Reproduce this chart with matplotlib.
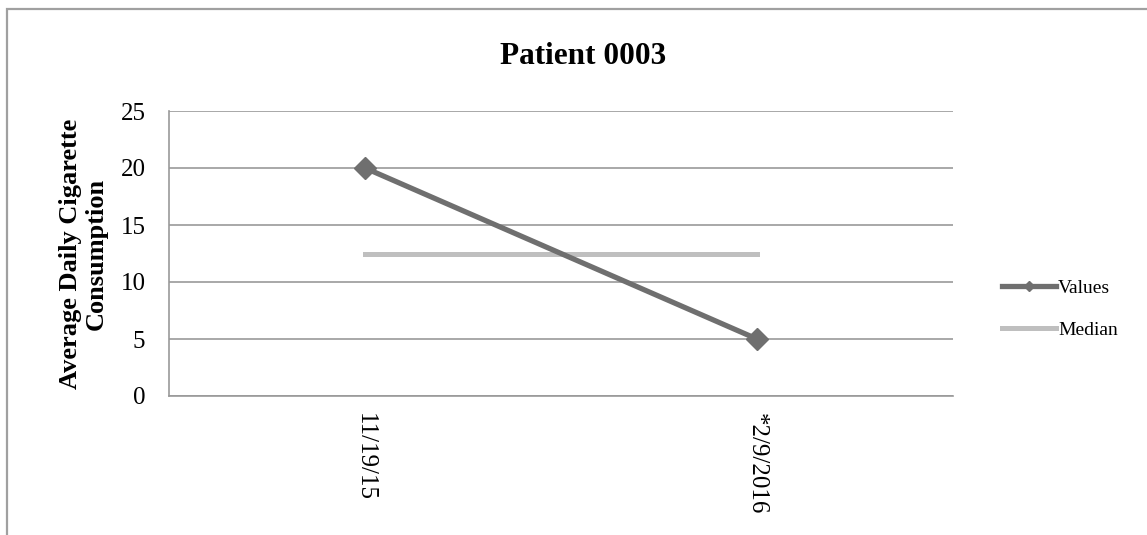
import matplotlib
matplotlib.use("Agg")
import matplotlib.pyplot as plt
from matplotlib.patches import Rectangle

# chart data
dates = ["11/19/15", "*2/9/2016"]
values = [20, 5]
median = [12.5, 12.5]
y_ticks = [0, 5, 10, 15, 20, 25]

plt.rcParams["font.family"] = ["Liberation Serif", "DejaVu Serif"]

W, H = 1147, 535
fig = plt.figure(figsize=(W / 100, H / 100), dpi=100)

# outer chart border (only left and top visible in the crop)
fig.patches.append(Rectangle((7 / W, -0.2), 1.5, 1.2 - 8.5 / H,
                             transform=fig.transFigure, fill=False,
                             edgecolor="#a0a0a0", linewidth=1.6))

ax = fig.add_axes([169 / W, 1 - 396 / H, (953 - 169) / W, (396 - 111) / H])

x = list(range(len(dates)))
ax.plot(x, values, color="#6f6f6f", linewidth=3.8, marker="D",
        markersize=11, label="Values", zorder=3)
ax.plot(x, median, color="#bfbfbf", linewidth=3.6, label="Median", zorder=2)

ax.set_xlim(-0.5, len(dates) - 0.5)
ax.set_ylim(0, 25)
ax.set_yticks(y_ticks)
ax.set_xticks(x)
ax.set_xticklabels(dates, rotation=-90, va="top", ha="center")
ax.tick_params(axis="both", length=0, labelsize=18)
ax.tick_params(axis="y", pad=17)
ax.tick_params(axis="x", pad=12)

ax.yaxis.grid(True, color="#999999", linewidth=1.2)
ax.set_axisbelow(True)
for side in ["top", "right"]:
    ax.spines[side].set_visible(False)
for side in ["left", "bottom"]:
    ax.spines[side].set_color("#999999")
    ax.spines[side].set_linewidth(1.2)

ax.set_ylabel("Average Daily Cigarette\nConsumption", fontsize=19,
              fontweight="bold", linespacing=1.15)
ax.yaxis.set_label_coords(-0.078, 0.5)

fig.text(583 / W, 1 - 56 / H, "Patient 0003", fontsize=22.5,
         fontweight="bold", ha="center", va="center")

leg = ax.legend(loc="center left", bbox_to_anchor=(1.04, 0.305), frameon=False,
                fontsize=14, markerscale=0.45, handlelength=2.8,
                handletextpad=0.1, labelspacing=1.25)

fig.savefig("out.png", dpi=100)
